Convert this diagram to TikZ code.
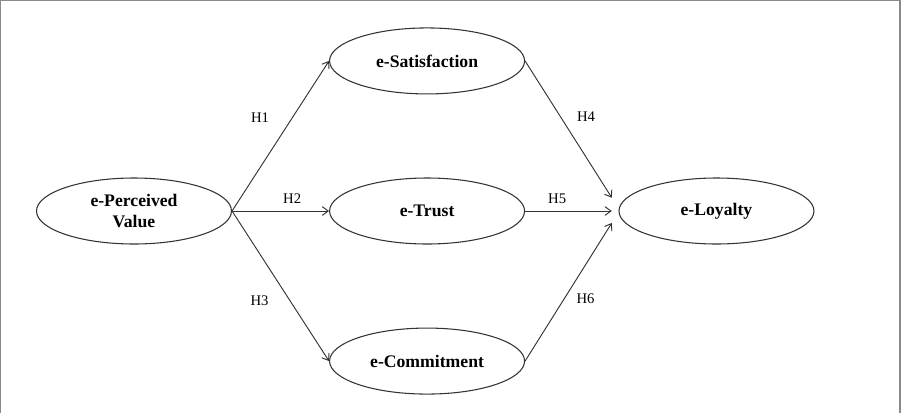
\documentclass[tikz,border=0pt]{standalone}
\usepackage{fontspec}
\setmainfont{Liberation Serif}
\usepackage{xcolor}
\definecolor{cLine}{HTML}{333333}
\definecolor{cFrame}{HTML}{8A8A8A}
\usetikzlibrary{positioning,arrows.meta,shapes.geometric,calc}
\tikzset{
  node-construct/.style={draw=cLine,ellipse,line width=0.8pt,inner sep=0pt,
    minimum width=146.25pt,minimum height=49.5pt,align=center,
    font=\fontsize{13.25}{15.75}\selectfont\bfseries},
  node-hyp/.style={inner sep=1pt,font=\fontsize{11}{13}\selectfont},
  arrow-path/.style={-{Straight Barb[length=4.5pt,width=6.5pt]},line width=0.7pt,draw=cLine},
}
\begin{document}
\begin{tikzpicture}[node distance=62.25pt and 72.75pt]
  \useasboundingbox (-100.5pt,-150.75pt) rectangle (577.5pt,158.25pt);
  \draw[cFrame,line width=1.1pt] (-100pt,-170pt) rectangle (574.5pt,157.8pt);

  \node[node-construct]                     (pv)    {e-Perceived\\Value};
  \node[node-construct,right=of pv]         (trust) {e-Trust};
  \node[node-construct,above=of trust]      (sat)   {e-Satisfaction};
  \node[node-construct,below=of trust]      (com)   {e-Commitment};
  \node[node-construct,right=70pt of trust] (loy)   {e-Loyalty};

  \coordinate (in-sat)   at ($(loy.west)+(-5pt,10pt)$);
  \coordinate (in-trust) at ($(loy.west)+(-5pt,0pt)$);
  \coordinate (in-com)   at ($(loy.west)+(-5pt,-9pt)$);

  \draw[arrow-path] (pv.east)    -- node[node-hyp,pos=.62,left=16pt]  {H1} (sat.west);
  \draw[arrow-path] (pv.east)    -- node[node-hyp,pos=.62,above=4pt]  {H2} (trust.west);
  \draw[arrow-path] (pv.east)    -- node[node-hyp,pos=.6,left=15pt]   {H3} (com.west);
  \draw[arrow-path] (sat.east)   -- node[node-hyp,pos=.41,right=11pt] {H4} (in-sat);
  \draw[arrow-path] (trust.east) -- node[node-hyp,pos=.37,above=4pt]  {H5} (in-trust);
  \draw[arrow-path] (com.east)   -- node[node-hyp,pos=.45,right=8pt]  {H6} (in-com);
\end{tikzpicture}
\end{document}
